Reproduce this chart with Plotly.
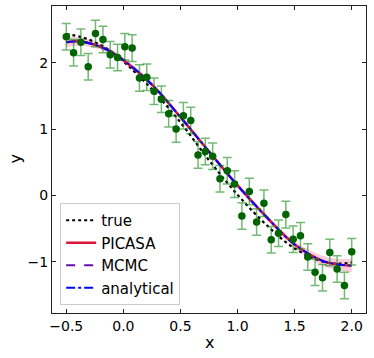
import plotly.graph_objects as go

# ---- data ----
x_obs = [-0.5, -0.436, -0.372, -0.308, -0.244, -0.179, -0.115, -0.051, 0.013, 0.077,
         0.141, 0.205, 0.269, 0.333, 0.397, 0.462, 0.526, 0.590, 0.654, 0.718,
         0.782, 0.846, 0.910, 0.974, 1.038, 1.103, 1.167, 1.231, 1.295, 1.359,
         1.423, 1.487, 1.551, 1.615, 1.679, 1.744, 1.808, 1.872, 1.936, 2.0]
y_obs = [2.39, 2.15, 2.31, 1.94, 2.44, 2.35, 2.12, 2.08, 2.24, 2.22,
         1.77, 1.78, 1.57, 1.45, 1.23, 1.00, 1.20, 1.13, 0.61, 0.66,
         0.59, 0.25, 0.37, 0.17, -0.31, 0.06, -0.40, -0.12, -0.67, -0.57,
         -0.29, -0.66, -0.61, -0.93, -1.16, -1.24, -0.86, -1.11, -1.36, -0.85]
y_err = 0.2

x_curve = [-0.5, -0.375, -0.25, -0.125, 0.0, 0.25, 0.5, 0.75, 1.0, 1.25, 1.5, 1.75, 1.875, 2.0]
y_true = [2.43, 2.39, 2.31, 2.19, 2.02, 1.60, 1.10, 0.53, 0.01, -0.44, -0.80, -1.00, -1.03, -1.01]
y_picasa = [2.31, 2.32, 2.27, 2.18, 2.04, 1.67, 1.18, 0.66, 0.15, -0.32, -0.74, -0.99, -1.04, -1.06]
y_mcmc = [2.31, 2.32, 2.27, 2.18, 2.04, 1.67, 1.18, 0.66, 0.15, -0.32, -0.74, -0.99, -1.04, -1.06]
y_analytical = [2.31, 2.32, 2.27, 2.18, 2.04, 1.67, 1.18, 0.66, 0.15, -0.32, -0.74, -0.99, -1.04, -1.06]
picasa_lower = [2.23, 2.26, 2.22, 2.14, 2.00, 1.63, 1.145, 0.625, 0.115, -0.36, -0.79, -1.065, -1.125, -1.16]
picasa_upper = [2.39, 2.38, 2.32, 2.22, 2.08, 1.71, 1.215, 0.695, 0.185, -0.28, -0.69, -0.915, -0.955, -0.96]

x_ticks = [-0.5, 0.0, 0.5, 1.0, 1.5, 2.0]
x_ticktext = ["\u22120.5", "0.0", "0.5", "1.0", "1.5", "2.0"]
y_ticks = [-1, 0, 1, 2]
y_ticktext = ["\u22121", "0", "1", "2"]

FONT = "DejaVu Sans"
W, H = 374, 358
ML, MR, MT, MB = 52, 8, 6, 45

fig = go.Figure()

# uncertainty band
fig.add_trace(go.Scatter(x=x_curve, y=picasa_upper, mode="lines", line=dict(width=0, shape="spline"),
                         showlegend=False, hoverinfo="skip"))
fig.add_trace(go.Scatter(x=x_curve, y=picasa_lower, mode="lines", line=dict(width=0, shape="spline"),
                         fill="tonexty", fillcolor="rgba(230,90,130,0.3)",
                         showlegend=False, hoverinfo="skip"))

fig.add_trace(go.Scatter(x=x_curve, y=y_true, mode="lines", name="true",
                         line=dict(color="black", width=2.2, dash="dot", shape="spline")))
fig.add_trace(go.Scatter(x=x_curve, y=y_picasa, mode="lines", name="PICASA",
                         line=dict(color="#DC143C", width=2.5, shape="spline")))
fig.add_trace(go.Scatter(x=x_curve, y=y_mcmc, mode="lines", name="MCMC",
                         line=dict(color="#6a0dad", width=1.8, dash="dash", shape="spline")))
fig.add_trace(go.Scatter(x=x_curve, y=y_analytical, mode="lines", name="analytical",
                         line=dict(color="#0000ff", width=1.8, dash="dashdot", shape="spline")))

# observations
fig.add_trace(go.Scatter(x=x_obs, y=y_obs, mode="markers", showlegend=False,
                         marker=dict(color="#006400", size=7.5),
                         error_y=dict(type="constant", value=y_err, color="rgba(0,128,0,0.55)",
                                      thickness=1.5, width=4.5)))

axis_common = dict(showline=True, linecolor="#222222", linewidth=1.2, mirror="ticks",
                   ticks="inside", ticklen=4, tickwidth=1, tickcolor="#222222",
                   showgrid=False, zeroline=False, automargin=False,
                   tickfont=dict(family=FONT, size=14, color="black"))

pw = W - ML - MR
ph = H - MT - MB

fig.update_layout(
    width=W, height=H,
    margin=dict(l=ML, r=MR, t=MT, b=MB),
    plot_bgcolor="white", paper_bgcolor="white",
    font=dict(family=FONT, color="black"),
    xaxis=dict(range=[-0.625, 2.125], tickvals=x_ticks, ticktext=x_ticktext, **axis_common),
    yaxis=dict(range=[-1.773, 2.855], tickvals=y_ticks, ticktext=y_ticktext, **axis_common),
    legend=dict(x=0.026, y=0.026, xanchor="left", yanchor="bottom", traceorder="normal",
                bgcolor="rgba(255,255,255,0.85)", bordercolor="#cccccc", borderwidth=1,
                font=dict(family=FONT, size=15, color="black"), itemwidth=30,
                tracegroupgap=0),
    annotations=[
        dict(text="x", xref="paper", yref="paper", x=0.5, y=-(342 - (H - MB)) / ph,
             xanchor="center", yanchor="middle", showarrow=False,
             font=dict(family=FONT, size=16, color="black")),
        dict(text="y", xref="paper", yref="paper", x=-(ML - 15) / pw, y=0.5, textangle=-90,
             xanchor="center", yanchor="middle", showarrow=False,
             font=dict(family=FONT, size=16, color="black")),
    ],
)

fig.write_html("out.html", config={"displayModeBar": False},
               post_script="document.body.style.margin='0';document.body.style.overflow='hidden';")
